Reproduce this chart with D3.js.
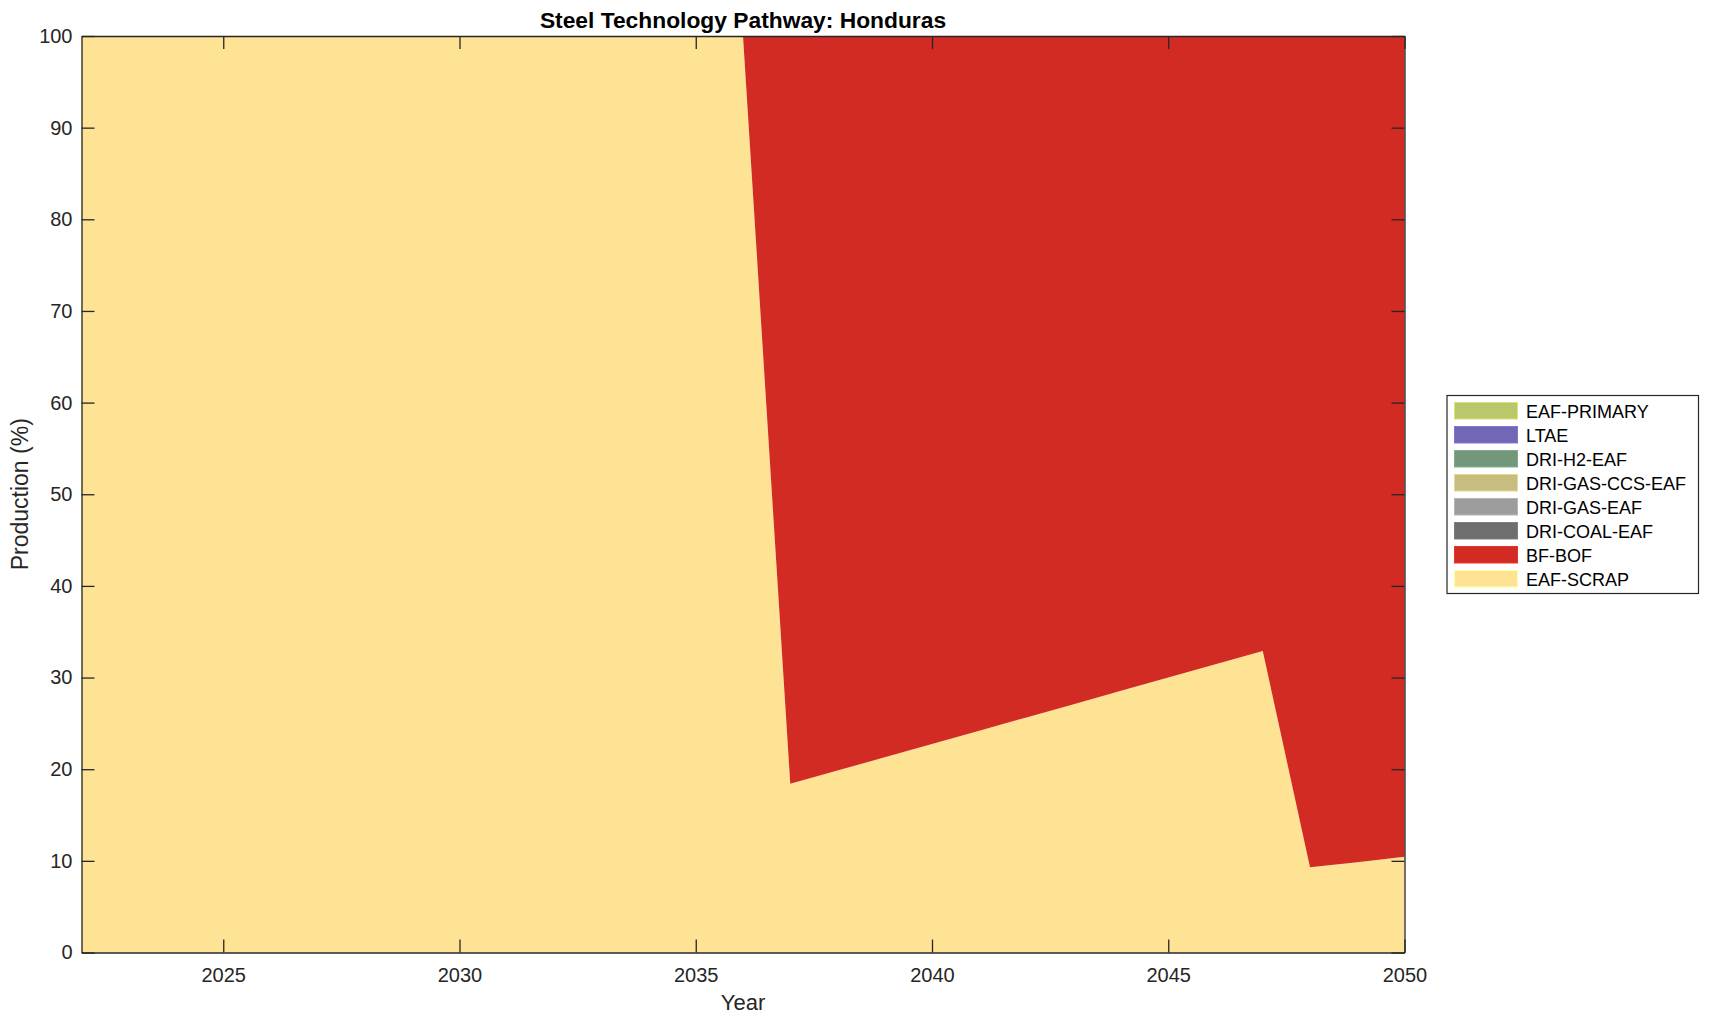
<!DOCTYPE html>
<html>
<head>
<meta charset="utf-8">
<script src="https://cdn.jsdelivr.net/npm/d3@7"></script>
<style>
  body { margin: 0; background: #fff; }
  text { font-family: Helvetica, Arial, "Liberation Sans", sans-serif; fill: #262626; }
</style>
</head>
<body>
<script>
// years on the x axis
var years = [2022, 2023, 2024, 2025, 2026, 2027, 2028, 2029, 2030, 2031, 2032, 2033, 2034, 2035,
             2036, 2037, 2038, 2039, 2040, 2041, 2042, 2043, 2044, 2045, 2046, 2047, 2048, 2049, 2050];

// share of production (%) per technology
var eafScrap = [100, 100, 100, 100, 100, 100, 100, 100, 100, 100, 100, 100, 100, 100,
                100, 18.4, 19.85, 21.3, 22.75, 24.2, 25.65, 27.1, 28.55, 30.0, 31.45, 32.9, 9.3, 9.85, 10.45];
var bfBof = [0, 0, 0, 0, 0, 0, 0, 0, 0, 0, 0, 0, 0, 0,
             0, 81.6, 80.15, 78.7, 77.25, 75.8, 74.35, 72.9, 71.45, 70.0, 68.55, 67.1, 90.7, 90.15, 89.55];
var zeros = years.map(function() { return 0; });

// stacking order, bottom first
var techs = ["EAF-SCRAP", "BF-BOF", "DRI-COAL-EAF", "DRI-GAS-EAF", "DRI-GAS-CCS-EAF", "DRI-H2-EAF", "LTAE", "EAF-PRIMARY"];
var colors = ["#fee394", "#d22b24", "#6e6e6e", "#9d9d9d", "#c6bd7f", "#72977b", "#7068b6", "#bcc66a"];
var series = [eafScrap, bfBof, zeros, zeros, zeros, zeros, zeros, zeros];

var yTicks = [0, 10, 20, 30, 40, 50, 60, 70, 80, 90, 100];
var xTicks = [2025, 2030, 2035, 2040, 2045, 2050];

var width = 1709, height = 1021;
var plotLeft = 81.5, plotRight = 1404.5, plotTop = 36, plotBottom = 952.5;

var svg = d3.select("body").append("svg")
    .attr("width", width)
    .attr("height", height);

var x = d3.scaleLinear().domain([2022, 2050]).range([plotLeft, plotRight]);
var y = d3.scaleLinear().domain([0, 100]).range([plotBottom, plotTop]);

// build the table for d3.stack
var table = years.map(function(yr, i) {
    var row = {year: yr};
    techs.forEach(function(t, j) { row[t] = series[j][i]; });
    return row;
});

var stacked = d3.stack().keys(techs)(table);

var area = d3.area()
    .x(function(d) { return x(d.data.year); })
    .y0(function(d) { return y(d[0]); })
    .y1(function(d) { return y(d[1]); });

svg.append("g")
    .selectAll("path")
    .data(stacked)
    .enter()
    .append("path")
    .attr("d", area)
    .style("fill", function(d, i) { return colors[i]; })
    .style("stroke", "none");

// axes, matlab style: ticks inside, box all round
var tickLen = 13;
var axisColor = "#262626";

var xAxis = d3.axisBottom(x).tickValues(xTicks).tickFormat(d3.format("d")).tickSizeInner(-tickLen).tickSizeOuter(0).tickPadding(15);
var gx = svg.append("g").attr("transform", "translate(0," + plotBottom + ")").call(xAxis);

var yAxis = d3.axisLeft(y).tickValues(yTicks).tickSizeInner(-tickLen).tickSizeOuter(0).tickPadding(9);
var gy = svg.append("g").attr("transform", "translate(" + plotLeft + ",0)").call(yAxis);

var xTop = d3.axisTop(x).tickValues(xTicks).tickFormat("").tickSizeInner(-tickLen).tickSizeOuter(0);
var gxt = svg.append("g").attr("transform", "translate(0," + plotTop + ")").call(xTop);

var yRight = d3.axisRight(y).tickValues(yTicks).tickFormat("").tickSizeInner(-tickLen).tickSizeOuter(0);
var gyr = svg.append("g").attr("transform", "translate(" + plotRight + ",0)").call(yRight);

[gx, gy, gxt, gyr].forEach(function(g) {
    g.selectAll("path.domain").style("stroke", axisColor).style("stroke-width", 1.3);
    g.selectAll(".tick line").style("stroke", axisColor).style("stroke-width", 1.3);
    g.selectAll(".tick text")
        .style("font-family", "Helvetica, Arial, 'Liberation Sans', sans-serif")
        .style("font-size", "20px")
        .style("fill", axisColor);
});

// title and axis labels
svg.append("text")
    .attr("x", (plotLeft + plotRight) / 2)
    .attr("y", 27.5)
    .attr("text-anchor", "middle")
    .style("font-size", "22.8px")
    .style("font-weight", "bold")
    .style("fill", "#000")
    .text("Steel Technology Pathway: Honduras");

svg.append("text")
    .attr("x", (plotLeft + plotRight) / 2)
    .attr("y", 1010)
    .attr("text-anchor", "middle")
    .style("font-size", "22px")
    .text("Year");

svg.append("text")
    .attr("transform", "translate(28," + (plotTop + plotBottom) / 2 + ") rotate(-90)")
    .attr("text-anchor", "middle")
    .style("font-size", "23px")
    .text("Production (%)");

// legend, reversed so top of stack comes first
var lx = 1447, ly = 395.5, lw = 251.5, lh = 198;
var legend = svg.append("g");

legend.append("rect")
    .attr("x", lx).attr("y", ly)
    .attr("width", lw).attr("height", lh)
    .style("fill", "#fff")
    .style("stroke", axisColor)
    .style("stroke-width", 1.2);

var legendItems = techs.slice().reverse();
var legendColors = colors.slice().reverse();

var item = legend.selectAll(".item")
    .data(legendItems)
    .enter().append("g")
    .attr("class", "item")
    .attr("transform", function(d, i) { return "translate(0," + (ly + 7 + i * 24) + ")"; });

item.append("rect")
    .attr("x", 1454.5).attr("y", 0)
    .attr("width", 63).attr("height", 16.5)
    .style("fill", function(d, i) { return legendColors[i]; })
    .style("stroke", function(d, i) { return d3.color(legendColors[i]).brighter(0.4); })
    .style("stroke-width", 1);

item.append("text")
    .attr("x", 1526)
    .attr("y", 15)
    .style("font-size", "18px")
    .style("fill", "#000")
    .text(function(d) { return d; });
</script>
</body>
</html>
